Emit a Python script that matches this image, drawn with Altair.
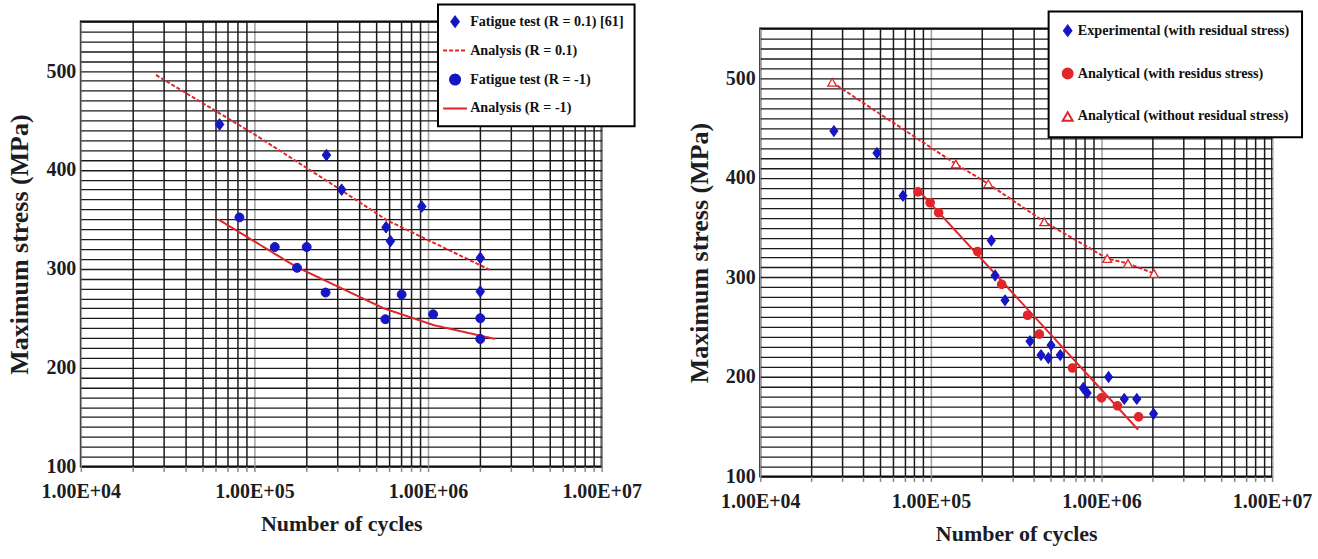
import altair as alt
import pandas as pd

# ---------------- left panel: tests at R = 0.1 and R = -1 ----------------
R01_CYCLES = [63000, 260000, 318000, 573000, 607000, 920000, 2000000, 2000000]
R01_STRESS = [446, 415, 380, 342, 328, 363, 311, 277]
RM1_CYCLES = [82000, 131000, 200000, 176000, 257000, 568000, 705000, 1070000, 2000000, 2000000]
RM1_STRESS = [352, 322, 322, 301, 276, 249, 274, 254, 250, 229]
FIT01_CYCLES = [27100, 100000, 313000, 581000, 2330000]
FIT01_STRESS = [496, 436, 380, 349, 298]
FITM1_CYCLES = [61800, 91200, 174000, 556000, 1080000, 2440000]
FITM1_STRESS = [350, 332, 302, 260, 243, 229]

L_SERIES = ["Fatigue test (R = 0.1) [61]", "Analysis (R = 0.1)",
            "Fatigue test (R = -1)", "Analysis (R = -1)"]

# ---------------- right panel: residual stress effect ----------------
EXP_CYCLES = [27000, 48300, 68600, 226000, 238000, 272000, 381000, 442000, 488000,
              506000, 573000, 782000, 824000, 1100000, 1360000, 1610000, 2020000]
EXP_STRESS = [447, 425, 382, 337, 302, 277, 236, 222, 219, 232, 222, 189, 184, 200, 178, 178, 163]
ANA_CYCLES = [84000, 99000, 111000, 188000, 260000, 369000, 432000, 676000, 1000000, 1240000, 1650000]
ANA_STRESS = [386, 375, 365, 326, 293, 262, 243, 209, 179, 171, 160]
NORS_CYCLES = [26400, 140000, 217000, 462000, 1080000, 1430000, 2030000]
NORS_STRESS = [496, 414, 394, 356, 319, 314, 304]
FITRS_CYCLES = [82000, 1640000]
FITRS_STRESS = [390, 147]

R_SERIES = ["Experimental (with residual stress)", "Analytical (with residus stress)",
            "Analytical (without residual stress)"]

# ---------------- axes ----------------
DECADES = [10000, 100000, 1000000, 10000000]
DECADE_LABELS = ["1.00E+04", "1.00E+05", "1.00E+06", "1.00E+07"]
STRESS_DOMAIN = [100, 550]
STRESS_TICKS = list(range(100, 551, 10))

BLUE = "#1616c4"
RED = "#e0262a"
FONT = "Liberation Serif"
INK = "#1c1c24"

cycle_ticks = [m * d for d in DECADES[:-1] for m in range(1, 10)] + [DECADES[-1]]
label_expr = " : ".join(
    f"datum.value == {d} ? '{t}'" for d, t in zip(DECADES, DECADE_LABELS)
) + " : ''"
decade_test = "indexof([" + ",".join(str(d) for d in DECADES) + "], datum.value) >= 0"


def x_axis():
    return alt.Axis(
        values=cycle_ticks, labelExpr=label_expr, labelOverlap=False, labelFlush=False,
        grid=True, gridColor={"condition": {"test": decade_test, "value": "#a0a0a0"}, "value": "#1a1a1a"},
        gridWidth=1.5, domain=False, ticks=True, tickColor="#8a8a8a", tickSize=5, tickWidth=1.5,
        labelFont=FONT, labelFontSize=20, labelFontWeight="bold", labelColor=INK, labelPadding=10,
        titleFont=FONT, titleFontSize=22, titleFontWeight="bold", titleColor=INK, titlePadding=12,
    )


def y_axis():
    return alt.Axis(
        values=STRESS_TICKS, labelExpr="datum.value % 100 == 0 ? datum.label : ''",
        labelOverlap=False, labelFlush=False, grid=True, gridColor="#1a1a1a", gridWidth=1.3,
        domain=False, ticks=False, labelPadding=5,
        labelFont=FONT, labelFontSize=20, labelFontWeight="bold", labelColor=INK,
        titleFont=FONT, titleFontSize=26, titleFontWeight="bold", titleColor=INK, titlePadding=13,
    )


x_scale = alt.Scale(type="log", domain=[DECADES[0], DECADES[-1]], nice=False)
y_scale = alt.Scale(domain=STRESS_DOMAIN, nice=False, zero=False)

DIAMOND = "M0,-1L0.74,0L0,1L-0.74,0Z"
DASH_SYMBOL = "M-2.4,0L2.4,0"


def legend(x, y, pad, row_pad, offset):
    return alt.Legend(
        title=None, orient="none", legendX=x, legendY=y, fillColor="white",
        strokeColor="black", padding=pad, rowPadding=row_pad, labelOffset=offset,
        labelFont=FONT, labelFontSize=14.2, labelFontWeight="bold", labelColor="#111",
        labelLimit=400, symbolSize=100, symbolStrokeWidth=2,
    )


# ---------------- left chart ----------------
left_pts = pd.DataFrame({
    "cycles": R01_CYCLES + RM1_CYCLES,
    "stress": R01_STRESS + RM1_STRESS,
    "series": [L_SERIES[0]] * len(R01_CYCLES) + [L_SERIES[2]] * len(RM1_CYCLES),
})
left_fit = pd.DataFrame({
    "cycles": FIT01_CYCLES + FITM1_CYCLES,
    "stress": FIT01_STRESS + FITM1_STRESS,
    "series": [L_SERIES[1]] * len(FIT01_CYCLES) + [L_SERIES[3]] * len(FITM1_CYCLES),
})

l_leg = legend(358, -17, 10, 12, 8)
l_shape = alt.Shape("series:N", scale=alt.Scale(domain=L_SERIES, range=[DIAMOND, DASH_SYMBOL, "circle", DASH_SYMBOL]), legend=l_leg)
l_fill = alt.Fill("series:N", scale=alt.Scale(domain=L_SERIES, range=[BLUE, "transparent", BLUE, "transparent"]), legend=l_leg)
l_stroke = alt.Stroke("series:N", scale=alt.Scale(domain=L_SERIES, range=[BLUE, RED, BLUE, RED]), legend=l_leg)
l_dash = alt.StrokeDash("series:N", scale=alt.Scale(domain=L_SERIES, range=[[1, 0], [4, 2], [1, 0], [1, 0]]), legend=l_leg)

lx = alt.X("cycles:Q", scale=x_scale, axis=x_axis(), title="Number of cycles")
ly = alt.Y("stress:Q", scale=y_scale, axis=y_axis(), title="Maximum stress (MPa)")

left_lines = alt.Chart(left_fit).mark_line(strokeWidth=2).encode(
    x=lx, y=ly, stroke=l_stroke, strokeDash=l_dash, detail="series:N"
)
left_base = alt.Chart(left_pts).mark_point(filled=True, opacity=1, strokeWidth=1).encode(
    x=lx, y=ly, shape=l_shape, fill=l_fill, stroke=l_stroke
)
left_diamonds = left_base.transform_filter(alt.datum.series == L_SERIES[0]).encode(size=alt.value(135))
left_circles = left_base.transform_filter(alt.datum.series == L_SERIES[2]).encode(size=alt.value(80))
left = alt.layer(left_lines, left_diamonds, left_circles).properties(width=522, height=446)

# ---------------- right chart ----------------
right_pts = pd.DataFrame({
    "cycles": EXP_CYCLES + ANA_CYCLES + NORS_CYCLES,
    "stress": EXP_STRESS + ANA_STRESS + NORS_STRESS,
    "series": [R_SERIES[0]] * len(EXP_CYCLES) + [R_SERIES[1]] * len(ANA_CYCLES)
    + [R_SERIES[2]] * len(NORS_CYCLES),
})
rs_fit = pd.DataFrame({"cycles": FITRS_CYCLES, "stress": FITRS_STRESS})
nors_fit = pd.DataFrame({"cycles": NORS_CYCLES, "stress": NORS_STRESS})

r_leg = legend(289, -10, 12, 24, 3)
rx = alt.X("cycles:Q", scale=x_scale, axis=x_axis(), title="Number of cycles")
ry = alt.Y("stress:Q", scale=y_scale, axis=y_axis(), title="Maximum stress (MPa)")

r_solid = alt.Chart(rs_fit).mark_line(strokeWidth=2, color=RED).encode(x=rx, y=ry)
r_dashed = alt.Chart(nors_fit).mark_line(strokeWidth=2, color=RED, strokeDash=[4, 2]).encode(x=rx, y=ry)
r_base = alt.Chart(right_pts).mark_point(filled=True, opacity=1, strokeWidth=1.3).encode(
    x=rx, y=ry,
    shape=alt.Shape("series:N", scale=alt.Scale(domain=R_SERIES, range=[DIAMOND, "circle", "triangle-up"]), legend=r_leg),
    fill=alt.Fill("series:N", scale=alt.Scale(domain=R_SERIES, range=[BLUE, RED, "white"]), legend=r_leg),
    stroke=alt.Stroke("series:N", scale=alt.Scale(domain=R_SERIES, range=[BLUE, RED, RED]), legend=r_leg),
)
r_exp = r_base.transform_filter(alt.datum.series == R_SERIES[0]).encode(size=alt.value(105))
r_ana = r_base.transform_filter(alt.datum.series == R_SERIES[1]).encode(size=alt.value(70))
r_nors = r_base.transform_filter(alt.datum.series == R_SERIES[2]).encode(size=alt.value(80))
right = alt.layer(r_dashed, r_solid, r_exp, r_ana, r_nors).properties(width=513, height=449)

# empty strip that lowers the right panel a little relative to the left one
gap = alt.Chart(pd.DataFrame({"v": [0]})).mark_point(opacity=0).encode(
    x=alt.value(0), y=alt.value(0)
).properties(width=513, height=1, view=alt.ViewBackground(stroke="transparent"))
right_col = alt.vconcat(gap, right, spacing=6, bounds="flush")

chart = (
    alt.hconcat(left, right_col, spacing=43)
    .resolve_scale(shape="independent", fill="independent", stroke="independent", strokeDash="independent")
    .properties(padding={"left": 6, "top": 2, "right": 5, "bottom": 5}, background="white")
    .configure_view(stroke="black", strokeWidth=2)
    .configure_legend(strokeWidth=2)
)

chart.save("out.html", embed_options={"renderer": "svg", "actions": False})
